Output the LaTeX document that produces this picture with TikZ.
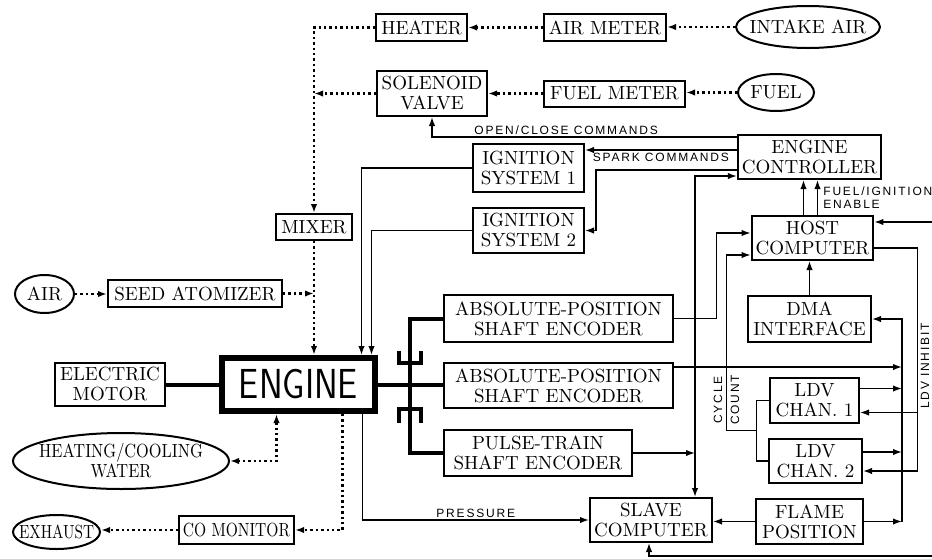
\documentclass[tikz,border=0pt]{standalone}
\usepackage{fontspec}
\usepackage{graphicx}
\usetikzlibrary{shapes.geometric,arrows.meta,calc}
\newfontfamily\lblfont[LetterSpace=15]{Liberation Sans}
\newcommand{\boxfont}{\fontsize{9.5}{10}\selectfont}
\newcommand{\tagfont}{\lblfont\fontsize{6}{6.5}\selectfont}

\begin{document}
\begin{tikzpicture}[x=0.5pt,y=-0.5pt,>={Latex[length=4.5pt,width=3.2pt]},
    blk/.style={draw, line width=1pt, inner xsep=2pt, inner ysep=2pt, align=center, font=\boxfont},
    src/.style={draw, ellipse, line width=1pt, inner sep=0pt},
    fluid/.style={line width=1.2pt, dash pattern=on 1.2pt off 1.5pt},
    sig/.style={line width=0.7pt},
    shaft/.style={line width=2pt},
    tag/.style={font=\tagfont, inner sep=1pt}]
    \useasboundingbox (0,0) rectangle (932,558);

    \node[blk, minimum width=45.5pt, minimum height=13.5pt] (heater) at (421.5,27.5) {HEATER};
    \node[blk, minimum width=61pt, minimum height=13.5pt] (airmeter) at (605,27.5) {AIR METER};
    \node[src, minimum width=72pt, minimum height=21pt, label={[name=intaket, font=\boxfont]center:INTAKE AIR}] (intake) at (808,27) {};
    \node[blk, minimum width=55pt, minimum height=22.5pt] (solenoid) at (432,93.5) {SOLENOID\\VALVE};
    \node[blk, minimum width=70.5pt, minimum height=13pt] (fuelmeter) at (614.5,93.5) {FUEL METER};
    \node[src, minimum width=38pt, minimum height=18.5pt, label={[name=fuelt, font=\boxfont]center:FUEL}] (fuel) at (776,92.5) {};
    \node[blk, minimum width=71.5pt, minimum height=22pt] (ec) at (809.5,157) {ENGINE\\CONTROLLER};
    \node[blk, minimum width=55.5pt, minimum height=24pt] (ign1) at (528.5,168) {IGNITION\\SYSTEM 1};
    \node[blk, minimum width=55.5pt, minimum height=22.5pt] (ign2) at (528.5,230.5) {IGNITION\\SYSTEM 2};
    \node[blk, minimum width=38pt, minimum height=13pt] (mixer) at (314,227) {MIXER};
    \node[blk, minimum width=60.5pt, minimum height=22pt] (host) at (812.5,238) {HOST\\COMPUTER};
    \node[src, minimum width=29.5pt, minimum height=19pt, label={[name=airt, font=\boxfont]center:AIR}] (air) at (44.5,294) {};
    \node[blk, minimum width=87pt, minimum height=13.5pt] (seed) at (195,293.5) {SEED ATOMIZER};
    \node[blk, minimum width=114.5pt, minimum height=23.5pt] (ase1) at (558.5,318.5) {ABSOLUTE-POSITION\\SHAFT ENCODER};
    \node[blk, minimum width=61.5pt, minimum height=23pt] (dma) at (809.5,319) {DMA\\INTERFACE};
    \node[blk, minimum width=55pt, minimum height=21.5pt] (motor) at (110,384.5) {ELECTRIC\\MOTOR};
    \node[blk, line width=3pt, minimum width=76.5pt, minimum height=26.5pt, font=\sffamily\fontsize{21}{21}\selectfont] (engine) at (298.5,384.5) {\scalebox{0.85}[1]{ENGINE}};
    \node[blk, minimum width=114.5pt, minimum height=22.5pt] (ase2) at (558.5,385.5) {ABSOLUTE-POSITION\\SHAFT ENCODER};
    \node[blk, minimum width=44.5pt, minimum height=22.5pt] (ldv1) at (814.5,400.5) {LDV\\CHAN. 1};
    \node[blk, minimum width=46.5pt, minimum height=22pt] (ldv2) at (815.5,461) {LDV\\CHAN. 2};
    \node[src, minimum width=108pt, minimum height=28pt, label={[name=hcwt, font=\boxfont, align=center]center:\scalebox{0.86}[1]{HEATING/COOLING}\\\scalebox{0.86}[1]{WATER}}] (hcw) at (121,461) {};
    \node[blk, minimum width=94pt, minimum height=23pt] (pulse) at (538,453) {PULSE-TRAIN\\SHAFT ENCODER};
    \node[src, minimum width=43.5pt, minimum height=17pt, label={[name=exhaustt, font=\boxfont]center:\scalebox{0.8}[1]{EXHAUST}}] (exhaust) at (56.5,532) {};
    \node[blk, minimum width=57.5pt, minimum height=14pt] (comon) at (236.5,530) {\scalebox{0.82}[1]{CO MONITOR}};
    \node[blk, minimum width=61pt, minimum height=22pt] (slave) at (651,520) {SLAVE\\COMPUTER};
    \node[blk, minimum width=53.5pt, minimum height=22.5pt] (flame) at (809.5,521.5) {FLAME\\POSITION};

    \draw[fluid,->] (intake.west) -- (intake.west -| airmeter.east); \draw[fluid,->] (airmeter.west) -- (airmeter.west -| heater.east); \draw[fluid,->] (heater.west) -| (mixer.north);
    \draw[fluid,->] (fuel.west) -- (fuel.west -| fuelmeter.east); \draw[fluid,->] (fuelmeter.west) -- (fuelmeter.west -| solenoid.east); \draw[fluid,->] (solenoid.west) -- (solenoid.west -| mixer.north);
    \draw[fluid,->] (mixer.south) -- (mixer.south |- engine.north); \draw[fluid,->] (air.east) -- (air.east -| seed.west); \draw[fluid,->] (seed.east) -- (seed.east -| mixer.south);
    \coordinate (ex) at ([xshift=22pt]engine.south); \coordinate (wt) at ([xshift=-11pt]engine.south);
    \draw[fluid,->] (ex) |- (comon.east); \draw[fluid,->] (comon.west) -- (comon.west -| exhaust.east); \draw[fluid,<->] (wt) |- (hcw.east);

    \coordinate (ec1) at ([yshift=10pt]ec.west); \coordinate (ec2) at ([yshift=3.5pt]ec.west); \coordinate (ec3) at ([yshift=-6.5pt]ec.west); \coordinate (ec4) at ([yshift=-9.5pt]ec.west);
    \draw[sig,->] (ec1) -| (solenoid.south) node[tag, above, pos=0.28] (lopen) {OPEN/CLOSE COMMANDS};
    \draw[sig,->] (ec2) -- (ec2 -| ign1.east) node[tag, below, midway] (lspark) {SPARK COMMANDS};
    \draw[sig,->] (ec3) -| ([xshift=5.5pt]ign2.east) -- (ign2.east);
    \draw[sig,->] (ign1.west) -| ([xshift=31.5pt]engine.north); \draw[sig,->] (ign2.west) -| ([xshift=36.5pt]engine.north);
    \coordinate (bus) at ([xshift=22pt]slave.north);
    \draw[sig,<->] (ec4) -| (bus); \draw[sig,->] (pulse.east) -- (pulse.east -| bus);
    \draw[sig,->] ([xshift=32pt]engine.south) |- (slave.west) node[tag, above, pos=0.75] (lpress) {PRESSURE};

    \coordinate (h1) at ([yshift=2.5pt]host.west); \coordinate (h2) at ([yshift=-8.5pt]host.west);
    \draw[sig,->] (ase1.east) -| ([xshift=-17pt]h1) -- (h1);
    \coordinate (cc) at ([xshift=-6pt]$(ldv1.west)!.5!(ldv2.west)$);
    \draw[sig] (ldv1.west) -| (cc) |- (ldv2.west); \draw[sig,->] (cc) -| ([xshift=-12pt]h2) -- (h2);
    \node[tag, rotate=90] (lcycle) at (718,400) {CYCLE}; \node[tag, rotate=90] (lcount) at (735,400) {COUNT};

    \coordinate (inh) at ([xshift=21.5pt,yshift=-5pt]host.east); \coordinate (l1i) at ([yshift=-6pt]ldv1.east); \coordinate (l2i) at ([yshift=-5pt]ldv2.east);
    \draw[sig,->] ([yshift=-5pt]host.east) -| (inh |- l2i) -- (l2i); \draw[sig,->] (inh |- l1i) -- (l1i);
    \node[tag, rotate=90] (linh) at (925,366) {LDV INHIBIT};

    \coordinate (dbus) at ([xshift=15pt]dma.east); \coordinate (a2o) at ([yshift=-2.5pt]ase2.north east); \coordinate (l1o) at ([yshift=6pt]ldv1.east); \coordinate (l2o) at ([yshift=4.5pt]ldv2.east);
    \draw[sig,->] (dbus |- flame.east) |- (dma.east); \draw[sig,->] (flame.east) -- (flame.east -| dbus);
    \draw[sig,->] (a2o) -- (a2o -| dbus); \draw[sig,->] (l1o) -- (l1o -| dbus); \draw[sig,->] (l2o) -- (l2o -| dbus);
    \draw[sig,->] (dma.north) -- (dma.north |- host.south);
    \coordinate (en1) at ([xshift=-4.5pt]host.north); \coordinate (en2) at ([xshift=2.5pt]host.north);
    \draw[sig,->] (en1) -- (en1 |- ec.south); \draw[sig,->] (en2) -- (en2 |- ec.south);
    \node[tag, align=left, anchor=west] (lenable) at (821,198) {FUEL/IGNITION\\ENABLE};
    \draw[sig,->] (flame.west) -- (flame.west -| slave.east);
    \coordinate (hfar) at (932,222); \coordinate (sfar) at (932,556);
    \draw[sig,->] (hfar) -- (hfar -| host.east); \draw[sig,->] (sfar) -| ([xshift=-1pt]slave.south);

    \draw[shaft] (motor.east) -- (motor.east -| engine.west); \draw[shaft] (engine.east) -- (engine.east -| ase2.west);
    \coordinate (sh) at ([xshift=16pt]engine.east);
    \draw[shaft] (ase1.west) -| (sh) |- (pulse.west);
    \draw[shaft] ([shift={(-5.5pt,17pt)}]sh) |- ([shift={(5.5pt,11pt)}]sh) -- ++(0pt,6pt);
    \draw[shaft] ([shift={(-5.5pt,-19pt)}]sh) |- ([shift={(5.5pt,-12pt)}]sh) -- ++(0pt,-7pt);
\end{tikzpicture}
\end{document}
